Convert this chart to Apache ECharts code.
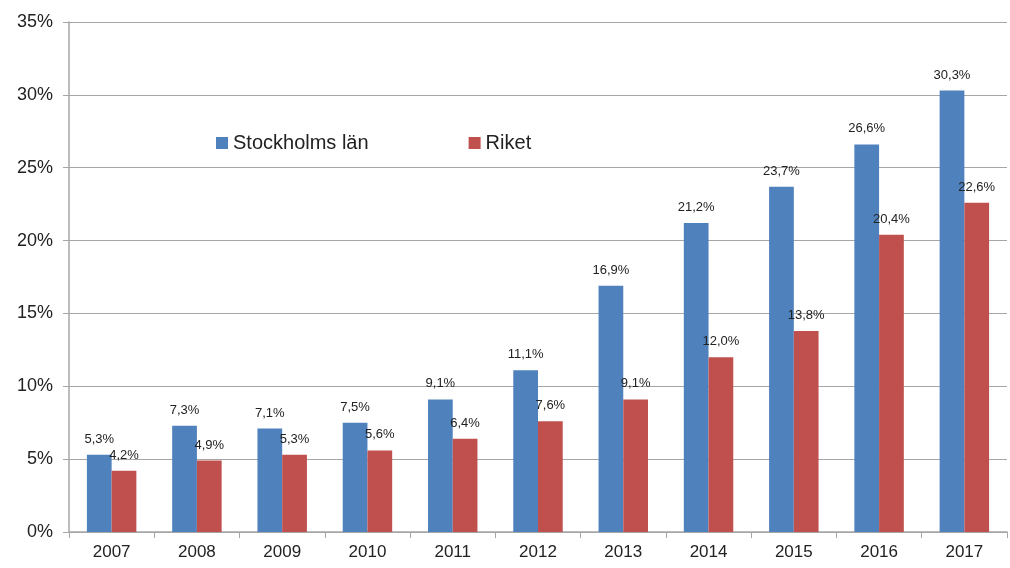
<!DOCTYPE html>
<html>
<head>
<meta charset="utf-8">
<script src="https://cdn.jsdelivr.net/npm/echarts@6/dist/echarts.min.js"></script>
<style>html,body{margin:0;padding:0;background:#fff}#c{width:1010px;height:568px}</style>
</head>
<body>
<div id="c"></div>
<script>
const categories = ['2007','2008','2009','2010','2011','2012','2013','2014','2015','2016','2017'];
const stockholm = [5.3, 7.3, 7.1, 7.5, 9.1, 11.1, 16.9, 21.2, 23.7, 26.6, 30.3];
const riket = [4.2, 4.9, 5.3, 5.6, 6.4, 7.6, 9.1, 12.0, 13.8, 20.4, 22.6];
const seriesNames = ['Stockholms län', 'Riket'];

const chart = echarts.init(document.getElementById('c'));
const fmt = p => p.value.toFixed(1).replace('.', ',') + '%';
const font = '"Liberation Sans", Arial, sans-serif';
chart.setOption({
  animation: false,
  textStyle: { fontFamily: font },
  grid: { left: 69, right: 3, top: 22, bottom: 36 },
  legend: {
    data: seriesNames,
    left: 211, top: 128,
    itemWidth: 12, itemHeight: 12, itemGap: 100,
    icon: 'rect',
    textStyle: { fontSize: 20, color: '#222', fontFamily: font }
  },
  xAxis: {
    type: 'category', data: categories,
    axisLine: { lineStyle: { color: '#a6a6a6', width: 1.5 } },
    axisTick: { show: true, length: 6, lineStyle: { color: '#a6a6a6' } },
    axisLabel: { fontSize: 17, color: '#222', margin: 12 }
  },
  yAxis: {
    type: 'value', min: 0, max: 35, interval: 5,
    axisLine: { show: true, lineStyle: { color: '#a6a6a6', width: 1.5 } },
    axisTick: { show: true, length: 6, lineStyle: { color: '#a6a6a6' } },
    splitLine: { lineStyle: { color: '#a6a6a6', width: 1.2 } },
    axisLabel: { fontSize: 18, color: '#222', margin: 16, formatter: v => v + '%' }
  },
  series: [
    {
      name: seriesNames[0], type: 'bar', data: stockholm,
      barWidth: '29%', barGap: '0%',
      itemStyle: { color: '#4F81BD' },
      label: { show: true, position: 'top', formatter: fmt, fontSize: 13, color: '#222', distance: 9 }
    },
    {
      name: seriesNames[1], type: 'bar', data: riket,
      barWidth: '29%', barGap: '0%',
      itemStyle: { color: '#C0504D' },
      label: { show: true, position: 'top', formatter: fmt, fontSize: 13, color: '#222', distance: 9 }
    }
  ]
});
</script>
</body>
</html>
